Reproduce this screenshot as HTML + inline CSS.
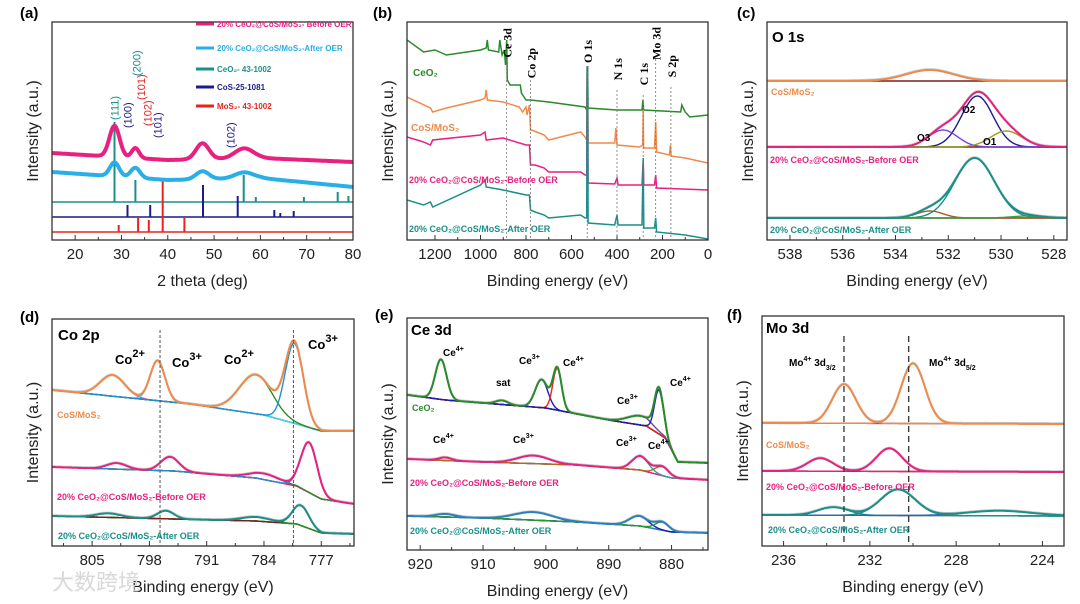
<!DOCTYPE html>
<html><head><meta charset="utf-8"><style>
html,body{margin:0;padding:0;background:#fff;}
svg{display:block;font-family:"Liberation Sans",Arial,sans-serif;}
</style></head><body>
<svg id="fig" width="1080" height="604" viewBox="0 0 1080 604" xmlns="http://www.w3.org/2000/svg"></svg>
<script>
// ---------- DATA ----------
// Panel a (XRD)
const xrdBeforeBase=[[15,87],[40,80],[60,82],[80,78]];
const xrdBeforePeaks=[[28.5,31,1.1],[33,10,0.8],[47.5,16,1.4],[56.5,10,2]];
const xrdAfterBase=[[15,68],[40,60],[60,62],[80,53]];
const xrdAfterPeaks=[[28.5,14,1],[33,10,1],[47.5,8,1.4],[56.5,6,2]];
const ceo2Sticks=[[28.5,80],[33,22],[56.4,27],[59,5],[69.4,5],[76.7,10],[79,6]];
const cosSticks=[[31.3,12],[36.2,12],[47.6,32],[55.1,21],[63,7],[64.3,4],[67.2,6]];
const mos2Sticks=[[29.4,7],[33.6,15],[35.9,12],[38.9,54],[43.6,15]];
const refBase=[38,23,8];
// Panel b (survey)
const surveyCeO2=[[1323,200],[1250,188],[1200,190],[1150,185],[1000,190],[975,192],[970,200],[965,190],[920,188],[915,200],[905,185],[895,190],[890,175],[885,200],[882,160],[870,155],[825,155],[820,147],[800,140],[780,140],[700,138],[540,133],[533,130],[531,173],[529,173],[527,132],[400,130],[290,130],[286,140],[283,130],[120,128],[115,135],[100,128],[80,123],[0,125]];
const surveyCoS=[[1323,143],[1220,132],[1210,128],[1150,132],[1000,140],[980,142],[975,150],[970,140],[900,138],[830,133],[815,128],[800,133],[795,125],[785,135],[780,110],[775,110],[720,105],[700,100],[560,108],[540,103],[533,100],[531,173],[529,173],[527,97],[430,97],[410,97],[405,112],[400,95],[300,93],[287,95],[285,130],[283,92],[235,92],[230,118],[226,88],[170,85],[165,95],[162,84],[100,82],[60,80],[0,77]];
const surveyBefore=[[1323,103],[1250,98],[1220,95],[1210,100],[1000,105],[980,108],[975,100],[900,102],[800,95],[785,95],[780,75],[760,75],[720,72],[700,68],[560,68],[540,65],[533,65],[531,173],[529,173],[527,57],[410,56],[400,62],[395,55],[290,55],[285,80],[282,55],[235,55],[230,65],[226,52],[0,50]];
const surveyAfter=[[1323,40],[1250,35],[1220,38],[1210,33],[1000,55],[980,60],[975,53],[900,50],[800,45],[785,45],[780,30],[760,28],[720,25],[700,22],[560,25],[540,22],[533,22],[531,173],[529,173],[527,17],[410,15],[400,25],[395,15],[290,15],[285,82],[282,12],[235,12],[230,22],[226,8],[100,5],[0,1]];
const surveyLines=[["Ce 3d",885,28],["Co 2p",780,48],["O 1s",531,40],["N 1s",400,58],["C 1s",285,63],["Mo 3d",230,27],["S 2p",163,55]];
// Panel c (O 1s)
const o1sCoSBase=[[539,159],[527,159]];
const o1sCoSPeaks=[[532.7,11,0.9]];
const o1sBeforeBase=[[539,93],[527,93]];
const o1sBeforePeaks=[[530.9,51,0.6],[532.2,17,0.55],[529.8,16,0.6]];
const o1sAfterBase=[[539,22],[527,22]];
const o1sAfterPeaks=[[531.0,60,0.75],[532.7,7,0.5],[529.0,2,0.6]];
// Panel d (Co 2p)
const coCoSBase=[[810,156],[793,142],[784,131],[780,122],[777,115],[773,115]];
const coCoSPeaks=[[802.5,21,1.5],[797.0,40,0.9],[785.0,39,2],[780.3,80,1.1]];
const coBeforeBase=[[810,79],[795,75],[785,68],[780,60],[777,47],[773,42]];
const coBeforePeaks=[[802,6,1.2],[795.5,14,1.1],[784,6,1.8],[778.5,50,1.0]];
const coAfterBase=[[810,30],[795,27],[785,25],[780,22],[777,13],[773,12]];
const coAfterPeaks=[[803,4,1.5],[796,8,1.0],[785,4,1.8],[779.5,20,1.0]];
// Panel e (Ce 3d)
const ceCeO2Base=[[922,155],[916,150],[910,147],[900,142],[890,130],[884,124],[881,112],[879,88],[874,87]];
const ceCeO2Peaks=[[916.7,40,0.9],[907,4,1],[900.7,28,1.0],[898.2,42,0.7],[885,9,2],[882,44,0.7]];
const ceBeforeBase=[[922,91],[910,88],[895,85],[885,80],[880,72],[874,70]];
const ceBeforePeaks=[[916,3,1],[902,8,2.5],[885,14,1.3],[881.5,9,1.1]];
const ceAfterBase=[[922,34],[910,32],[895,28],[885,24],[880,18],[874,17]];
const ceAfterPeaks=[[916,3,1.5],[902,8,3],[885.2,10,1.5],[881.5,8,1.1]];
// Panel f (Mo 3d)
const moCoSBase=[[237,123],[223,122]];
const moCoSPeaks=[[233.2,39,0.55],[230.0,60,0.55]];
const moBeforeBase=[[237,75],[223,74]];
const moBeforePeaks=[[234.3,13,0.6],[231.1,23,0.6]];
const moAfterBase=[[237,31],[223,30]];
const moAfterPeaks=[[233.7,8,0.7],[230.7,26,0.8],[226,5,1.5]];

const tickA=[20,30,40,50,60,70,80], tickB=[1200,1000,800,600,400,200,0], tickC=[538,536,534,532,530,528];
const tickD=[805,798,791,784,777], tickE=[920,910,900,890,880], tickF=[236,232,228,224];

// ---------- HELPERS ----------
const svg=document.getElementById('fig');
const NS='http://www.w3.org/2000/svg';
function mk(tag,attrs,parent){const e=document.createElementNS(NS,tag);for(const k in attrs)e.setAttribute(k,attrs[k]);(parent||svg).appendChild(e);return e;}
function txt(s,x,y,opt,parent){const t=mk('text',Object.assign({x:x,y:y,'font-size':11,fill:'#000'},opt||{}),parent);t.textContent=s;return t;}
function interp(arr,x){const a=arr.slice().sort((p,q)=>p[0]-q[0]);if(x<=a[0][0])return a[0][1];for(let i=1;i<a.length;i++){if(x<=a[i][0]){const t=(x-a[i-1][0])/(a[i][0]-a[i-1][0]);return a[i-1][1]+t*(a[i][1]-a[i-1][1]);}}return a[a.length-1][1];}
function gauss(p,x){return p[1]*Math.exp(-((x-p[0])**2)/(2*p[2]*p[2]));}
function panel(P){
  const g=mk('g',{});
  
  
  P.sx=v=>P.x0+(v-P.d0)/(P.d1-P.d0)*(P.x1-P.x0);
  P.sy=v=>P.y1-v;
  P.g=g;
  const clip=mk('clipPath',{id:'c'+P.name},g);mk('rect',{x:P.x0,y:P.y0,width:P.x1-P.x0,height:P.y1-P.y0},clip);
  P.cg=mk('g',{'clip-path':'url(#c'+P.name+')'},g);
  return P;
}
function frame(P,ticks,minor,title,letter,lx,ly){
  const f=mk('rect',{x:P.x0,y:P.y0,width:P.x1-P.x0,height:P.y1-P.y0,fill:'none',stroke:'#333','stroke-width':1.3},P.g);
  
  ticks.forEach(t=>{const x=P.sx(t);mk('line',{x1:x,x2:x,y1:P.y1,y2:P.y1-5,stroke:'#333'},P.g);
    const l=txt(String(t),x,P.y1+19,{'font-size':15,'text-anchor':'middle',fill:'#222'},P.g);});
  minor.forEach(t=>{const x=P.sx(t);mk('line',{x1:x,x2:x,y1:P.y1,y2:P.y1-3,stroke:'#333'},P.g);});
  const xt=txt(title,(P.x0+P.x1)/2,P.y1+46,{'font-size':16,'text-anchor':'middle',fill:'#222'},P.g);
  
  const yc=(P.y0+P.y1)/2,yx=P.x0-14;
  const yt=txt('Intensity (a.u.)',yx,yc,{'font-size':16,'text-anchor':'middle',fill:'#222',transform:`rotate(-90 ${yx} ${yc})`},P.g);
  
  const pl=txt(letter,lx,ly,{'font-size':15,'font-weight':'bold'},P.g);
  
}
function poly(P,fn,color,w,name){
  const pts=[];const n=300;
  for(let i=0;i<=n;i++){const v=P.d0+(P.d1-P.d0)*i/n;pts.push(P.sx(v).toFixed(1)+','+P.sy(fn(v)).toFixed(1));}
  const e=mk('polyline',{points:pts.join(' '),fill:'none',stroke:color,'stroke-width':w,'stroke-linejoin':'round'},P.cg);
  return e;
}
function linePts(P,arr,color,w,name){
  const e=mk('polyline',{points:arr.map(p=>P.sx(p[0]).toFixed(1)+','+P.sy(p[1]).toFixed(1)).join(' '),fill:'none',stroke:color,'stroke-width':w},P.cg);
  
}
function fitSet(P,base,peaks,env,bk,comps,name){
  const B=v=>interp(base,v);
  poly(P,v=>B(v)+peaks.reduce((s,p)=>s+gauss(p,v),0)+0.8,'#c8c8c8',2,name+'-raw');
  poly(P,B,bk,1.4,name+'-background');
  peaks.forEach((p,i)=>poly(P,v=>B(v)+gauss(p,v),comps[i%comps.length],1.4,name+'-component'));
  poly(P,v=>B(v)+peaks.reduce((s,p)=>s+gauss(p,v),0),env,2,name+'-envelope');
}
function lab(P,s,x,y,col,size,name,bold){const t=txt(s,x,y,{'font-size':size||10,fill:col||'#000','font-weight':bold===false?'normal':'bold'},P.g);return t;}
function sampleLabel(P,x,y,col,sub){ // "20% CeO2@CoS/MoS2-..."
  const t=lab(P,'',x,y,col,9.5,'series-label');
  const parts=[['20% CeO',0],['2',1],['@CoS/MoS',0],['2',1],[sub,0]];
  parts.forEach(p=>{const ts=mk('tspan',p[1]?{'font-size':8,dy:3}:{dy:0},t);ts.textContent=p[0];if(p[1]){const r=mk('tspan',{dy:-3},t);r.textContent='';}});
  return t;
}

// ---------- PANEL A ----------
const A=panel({name:'panel-a-xrd',x0:52,x1:353,y0:22,y1:240,d0:15,d1:80});
frame(A,tickA,[25,35,45,55,65,75],'2 theta (deg)','(a)',20,18);
[[ceo2Sticks,refBase[0],'#1a9088','ceo2-reference'],[cosSticks,refBase[1],'#1c1c8a','cos-reference'],[mos2Sticks,refBase[2],'#e8231f','mos2-reference']].forEach(r=>{
  linePts(A,[[15,r[1]],[80,r[1]]],r[2],1.5,r[3]+'-baseline');
  r[0].forEach(s=>linePts(A,[[s[0],r[1]],[s[0],r[1]+s[1]]],r[2],2,r[3]+'-stick'));
});
poly(A,v=>interp(xrdAfterBase,v)+xrdAfterPeaks.reduce((s,p)=>s+gauss(p,v),0),'#2aaee8',4,'after-oer-xrd');
poly(A,v=>interp(xrdBeforeBase,v)+xrdBeforePeaks.reduce((s,p)=>s+gauss(p,v),0),'#e8207f',4,'before-oer-xrd');
[['(111)',28.5,120,'#1a9088'],['(100)',31.3,128,'#1c1c8a'],['(200)',33.2,76,'#1a9088'],['(101)',34.2,100,'#e8231f'],['(102)',35.6,126,'#e8231f'],['(101)',37.8,138,'#1c1c8a'],['(102)',53.6,148,'#1c1c8a']].forEach(a=>{
  const x=A.sx(a[1])+4;const t=txt(a[0],x,a[2],{'font-size':11,fill:a[3],transform:`rotate(-90 ${x} ${a[2]})`},A.g);
  
});
[['20% CeO₂@CoS/MoS₂- Before OER','#e8207f',27],['20% CeO₂@CoS/MoS₂-After OER','#2aaee8',51],['CeO₂- 43-1002','#1a9088',72],['CoS-25-1081','#1c1c8a',90],['MoS₂- 43-1002','#e8231f',109]].forEach(l=>{
  const r=mk('line',{x1:196,x2:214,y1:l[2]-3,y2:l[2]-3,stroke:l[1],'stroke-width':3},A.g);
  lab(A,l[0],217,l[2],l[1],8,'legend-entry');
});

// ---------- PANEL B ----------
const Bp=panel({name:'panel-b-survey',x0:407,x1:708,y0:22,y1:240,d0:1323,d1:0});
frame(Bp,tickB,[1100,900,700,500,300,100],'Binding energy (eV)','(b)',373,18);
surveyLines.forEach(s=>{const x=Bp.sx(s[1]);const l=mk('line',{x1:x,x2:x,y1:s[2]+32,y2:238,stroke:'#777','stroke-width':0.8,'stroke-dasharray':'2,2'},Bp.g);
  const t=txt(s[0],x+5,s[2],{'font-size':12,'font-weight':'bold','font-family':'Liberation Serif,serif',transform:`rotate(-90 ${x+5} ${s[2]})`,'text-anchor':'end'},Bp.g);});
linePts(Bp,surveyCeO2,'#2a8a2a',1.5,'ceo2-survey');
linePts(Bp,surveyCoS,'#f08a4b',1.5,'cos-mos2-survey');
linePts(Bp,surveyBefore,'#e8207f',1.5,'before-oer-survey');
linePts(Bp,surveyAfter,'#1a8f8a',1.5,'after-oer-survey');
lab(Bp,'CeO₂',413,76,'#2a8a2a',10);
lab(Bp,'CoS/MoS₂',411,131,'#f08a4b',10);
lab(Bp,'20% CeO₂@CoS/MoS₂-Before OER',409,183,'#e8207f',9);
lab(Bp,'20% CeO₂@CoS/MoS₂-After OER',409,232,'#1a8f8a',9);

// ---------- PANEL C ----------
const C=panel({name:'panel-c-o1s',x0:767,x1:1067,y0:22,y1:240,d0:538.87,d1:527.5});
frame(C,tickC,[537,535,533,531,529],'Binding energy (eV)','(c)',737,18);
fitSet(C,o1sCoSBase,o1sCoSPeaks,'#f08a4b','#7b1f1f',['#a0522d'],'cos-o1s');
fitSet(C,o1sBeforeBase,o1sBeforePeaks,'#e8207f','#7b1f1f',['#1c1c8a','#7b3fe0','#9a9a20'],'before-o1s');
fitSet(C,o1sAfterBase,o1sAfterPeaks,'#1a8f8a','#7b1f1f',['#1a8f8a','#a0602d','#3aa03a'],'after-o1s');
lab(C,'O 1s',772,42,'#000',15,'panel-title');
lab(C,'CoS/MoS₂',771,95,'#f08a4b',9);
lab(C,'O2',962,113,'#000',10,'component-label');lab(C,'O3',917,141,'#000',10,'component-label');lab(C,'O1',983,145,'#000',10,'component-label');
lab(C,'20% CeO₂@CoS/MoS₂-Before OER',770,163,'#e8207f',9);
lab(C,'20% CeO₂@CoS/MoS₂-After OER',770,233,'#1a8f8a',9);

// ---------- PANEL D ----------
const D=panel({name:'panel-d-co2p',x0:52,x1:354,y0:319,y1:546,d0:809.9,d1:773});
frame(D,tickD,[808.5,801.5,794.5,787.5,780.5,773.5],'Binding energy (eV)','(d)',20,322);
[796.7,780.4].forEach(e=>{const x=D.sx(e);const l=mk('line',{x1:x,x2:x,y1:330,y2:546,stroke:'#555','stroke-dasharray':'3,2'},D.g);});
fitSet(D,coCoSBase,coCoSPeaks,'#f08a4b','#1c1c8a',['#e040e0','#30e0e0','#2a8a2a','#2090d0'],'cos-co2p');
fitSet(D,coBeforeBase,coBeforePeaks,'#e8207f','#7b1f1f',['#e8207f','#e8207f','#2a8a2a','#2090d0'],'before-co2p');
fitSet(D,coAfterBase,coAfterPeaks,'#1a8f8a','#b08020',['#2a8a2a','#2a8a2a','#2a8a2a','#7b1f1f'],'after-co2p');
lab(D,'Co 2p',58,340,'#000',15,'panel-title');
[['Co',115,364],['Co',172,367],['Co',224,364],['Co',308,349]].forEach((c,i)=>{const t=lab(D,'',c[1],c[2],'#000',13,'oxidation-label');const a=mk('tspan',{},t);a.textContent='Co';const b=mk('tspan',{dy:-7,'font-size':11},t);b.textContent=(i%2?'3+':'2+');});
lab(D,'CoS/MoS₂',57,418,'#f08a4b',9);
lab(D,'20% CeO₂@CoS/MoS₂-Before OER',57,500,'#e8207f',9);
lab(D,'20% CeO₂@CoS/MoS₂-After OER',58,539,'#1a8f8a',9);

// ---------- PANEL E ----------
const E=panel({name:'panel-e-ce3d',x0:407,x1:708,y0:318,y1:550,d0:922.1,d1:874.2});
frame(E,tickE,[915,905,895,885,875],'Binding energy (eV)','(e)',375,320);
fitSet(E,ceCeO2Base,ceCeO2Peaks,'#2a8a2a','#7b1f1f',['#2a8a2a','#2a8a2a','#1c1cb0','#e8231f','#7b3fa0','#1c1cb0'],'ceo2-ce3d');
fitSet(E,ceBeforeBase,ceBeforePeaks,'#e8207f','#30c0c0',['#e8207f','#e8207f','#30a0a0','#b06a20'],'before-ce3d');
fitSet(E,ceAfterBase,ceAfterPeaks,'#2a80c0','#3a60a0',['#2a80c0','#2a80c0','#1c1cb0','#2a9a2a'],'after-ce3d');
lab(E,'Ce 3d',411,335,'#000',15,'panel-title');
function ceLab(s,x,y){const t=lab(E,'',x,y,'#000',10,'oxidation-label');const a=mk('tspan',{},t);a.textContent='Ce';const b=mk('tspan',{dy:-5,'font-size':7},t);b.textContent=s;}
ceLab('4+',443,356);lab(E,'sat',496,386,'#000',10,'satellite-label');ceLab('3+',519,364);ceLab('4+',563,366);ceLab('3+',617,404);ceLab('4+',670,386);
ceLab('4+',433,443);ceLab('3+',513,443);ceLab('3+',616,446);ceLab('4+',648,449);
lab(E,'CeO₂',412,411,'#2a8a2a',9);
lab(E,'20% CeO₂@CoS/MoS₂-Before OER',410,486,'#e8207f',9);
lab(E,'20% CeO₂@CoS/MoS₂-After OER',410,534,'#1a8f8a',9);

// ---------- PANEL F ----------
const F=panel({name:'panel-f-mo3d',x0:762,x1:1064,y0:316,y1:546,d0:237.0,d1:223.0});
frame(F,tickF,[234,230,226],'Binding energy (eV)','(f)',727,320);
[233.2,230.2].forEach(e=>{const x=F.sx(e);const l=mk('line',{x1:x,x2:x,y1:336,y2:546,stroke:'#333','stroke-width':1.3,'stroke-dasharray':'6,4'},F.g);});
fitSet(F,moCoSBase,moCoSPeaks,'#f08a4b','#7b1f1f',['#f08a4b'],'cos-mo3d');
fitSet(F,moBeforeBase,moBeforePeaks,'#e8207f','#7b1f1f',['#e8207f'],'before-mo3d');
fitSet(F,moAfterBase,moAfterPeaks,'#1a8f8a','#c03030',['#1a8f8a','#1a8f8a','#2a6ab0'],'after-mo3d');
lab(F,'Mo 3d',766,333,'#000',15,'panel-title');
function moLab(s,x,y){const t=lab(F,'',x,y,'#000',10,'peak-label');const a=mk('tspan',{},t);a.textContent='Mo';const b=mk('tspan',{dy:-5,'font-size':7},t);b.textContent='4+';const c=mk('tspan',{dy:5},t);c.textContent=' 3d';const d=mk('tspan',{dy:4,'font-size':7},t);d.textContent=s;}
moLab('3/2',789,366);moLab('5/2',929,366);
lab(F,'CoS/MoS₂',766,448,'#f08a4b',9);
lab(F,'20% CeO₂@CoS/MoS₂-Before OER',766,490,'#e8207f',9);
lab(F,'20% CeO₂@CoS/MoS₂-After OER',768,533,'#1a8f8a',9);

// watermark
const wm=txt('大数跨境',52,590,{'font-size':22,fill:'#d8d8d8','font-family':'Liberation Sans, Noto Sans CJK SC, sans-serif'});


</script>
</body></html>
